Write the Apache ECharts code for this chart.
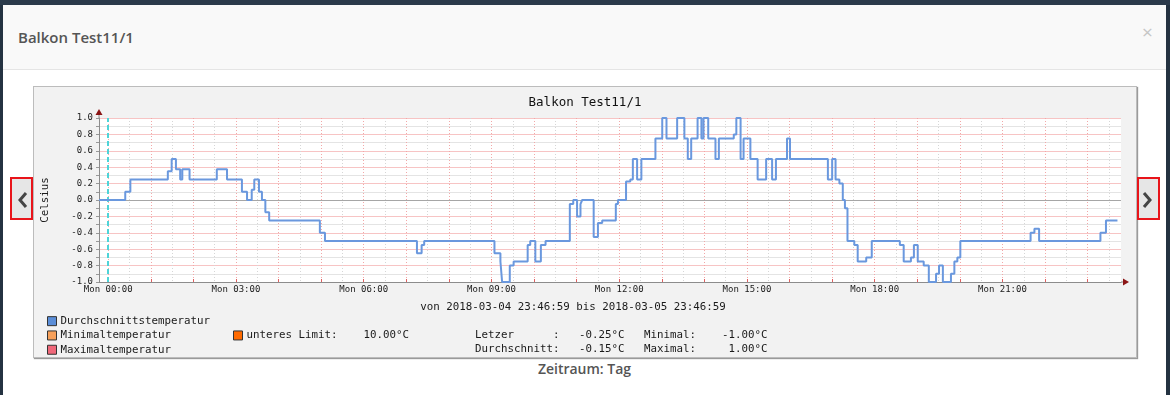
<!DOCTYPE html>
<html><head><meta charset="utf-8">
<script src="https://cdn.jsdelivr.net/npm/echarts@6/dist/echarts.min.js"></script>
<style>
html,body{margin:0;padding:0;width:1170px;height:395px;overflow:hidden;background:#243241;font-family:"Open Sans","Noto Sans",sans-serif;}
#topbar{position:absolute;left:0;top:0;width:1170px;height:5px;background:#2b3a4b;}
#modal{position:absolute;left:3px;top:5px;width:1163px;height:395px;background:#fff;}
#hdr{position:absolute;left:0;top:0;width:1163px;height:64px;background:#f9f9f9;border-bottom:1px solid #e5e5e5;}
#hdr .t{position:absolute;left:15px;top:22px;font-size:15px;line-height:20px;font-weight:600;color:#555;}
#hdr .x{position:absolute;left:1139px;top:17px;font-size:19px;line-height:20px;color:#c6c6c6;}
#box{position:absolute;left:30px;top:81px;width:1102px;height:270px;background:#f2f2f2;border:1px solid #bcbcbc;box-shadow:1px 1px 1px #9a9a9a;}
#chart{position:absolute;left:0;top:0;width:1102px;height:270px;}
#zeit{position:absolute;left:0;width:1163px;top:354px;line-height:19px;text-align:center;font-size:14px;font-weight:600;color:#555;}
.nav{position:absolute;top:172px;width:19px;height:39px;border:2px solid #e8141a;background:#e6e6e6;}
.nav svg{position:absolute;left:0;top:0;}
</style></head>
<body>
<div id="topbar"></div>
<div id="modal">
  <div id="hdr"><div class="t">Balkon Test11/1</div><div class="x">×</div></div>
  <div id="box"><div id="chart"></div></div>
  <div id="zeit">Zeitraum: Tag</div>
  <div class="nav" style="left:7px"><svg width="19" height="39"><polyline points="14,14 8,21 14,28" fill="none" stroke="#444" stroke-width="3"/></svg></div>
  <div class="nav" style="left:1134px"><svg width="19" height="39"><polyline points="5,14 11,21 5,28" fill="none" stroke="#444" stroke-width="3"/></svg></div>
</div>
<script>
// ---- data ----
const chartTitle = 'Balkon Test11/1';
const rangeText = 'von 2018-03-04 23:46:59 bis 2018-03-05 23:46:59';
const xMin = -(13 / 60) + (1 / 3600);   // 23:46:59 (hours relative to Mon 00:00)
const xMax = 23 + 47 / 60 - 1 / 3600;   // 23:46:59
const labelHours = [0, 3, 6, 9, 12, 15, 18, 21];
const labelTexts = ['Mon 00:00', 'Mon 03:00', 'Mon 06:00', 'Mon 09:00', 'Mon 12:00', 'Mon 15:00', 'Mon 18:00', 'Mon 21:00'];
const hourLines = [0, 1, 2, 3, 4, 5, 6, 7, 8, 9, 10, 11, 12, 13, 14, 15, 16, 17, 18, 19, 20, 21, 22, 23];
const halfLines = [0.5, 1.5, 2.5, 3.5, 4.5, 5.5, 6.5, 7.5, 8.5, 9.5, 10.5, 11.5, 12.5, 13.5, 14.5, 15.5, 16.5, 17.5, 18.5, 19.5, 20.5, 21.5, 22.5, 23.5];
const timeH = [-0.2164, 0.40, 0.52, 1.40, 1.49, 1.59, 1.69, 1.74, 1.91, 2.55,
  2.79, 3.14, 3.26, 3.37, 3.43, 3.54, 3.61, 3.69, 3.78, 4.97,
  5.09, 7.25, 7.36, 7.42, 9.07, 9.21, 9.25, 9.43, 9.52, 9.85,
  9.91, 10.03, 10.16, 10.27, 10.84, 10.92, 11.01, 11.09, 11.13, 11.40,
  11.50, 11.60, 11.92, 11.97, 12.16, 12.26, 12.32, 12.42, 12.52, 12.85,
  13.01, 13.11, 13.36, 13.53, 13.61, 13.69, 13.84, 13.93, 13.98, 14.09,
  14.26, 14.34, 14.69, 14.75, 14.85, 14.92, 15.08, 15.25, 15.45, 15.59,
  15.68, 15.94, 16.01, 16.90, 17.00, 17.08, 17.17, 17.25, 17.30, 17.36,
  17.52, 17.60, 17.80, 17.93, 18.59, 18.68, 18.85, 18.92, 19.01, 19.15,
  19.27, 19.44, 19.51, 19.60, 19.79, 19.87, 19.94, 20.01, 21.66, 21.75,
  21.86, 23.30, 23.43, 23.70];
const avgTemp = [0.0, 0.1, 0.25, 0.35, 0.5, 0.375, 0.25, 0.375, 0.25, 0.375,
  0.25, 0.1, 0.0, 0.125, 0.25, 0.1, 0.0, -0.15, -0.25, -0.4,
  -0.5, -0.65, -0.55, -0.5, -0.65, -0.75, -1.0, -0.8, -0.75, -0.55,
  -0.5, -0.75, -0.55, -0.5, -0.05, 0.0, -0.2, -0.05, 0.0, -0.45,
  -0.28, -0.25, -0.05, 0.0, 0.225, 0.25, 0.5, 0.25, 0.5, 0.75,
  1.0, 0.75, 1.0, 0.75, 0.5, 0.75, 1.0, 0.75, 1.0, 0.75,
  0.5, 0.75, 0.8, 1.0, 0.5, 0.75, 0.5, 0.25, 0.5, 0.25,
  0.5, 0.75, 0.5, 0.25, 0.5, 0.25, 0.2, 0.0, -0.1, -0.5,
  -0.55, -0.75, -0.7, -0.5, -0.55, -0.75, -0.7, -0.55, -0.75, -0.8,
  -1.0, -0.9, -0.8, -1.0, -0.9, -0.75, -0.7, -0.5, -0.4, -0.35,
  -0.5, -0.4, -0.25, -0.25];
const legendNames = ['Durchschnittstemperatur', 'Minimaltemperatur', 'Maximaltemperatur'];
const legendColors = ['#5b8ed8', '#f7a05a', '#f0687a'];
const limitName = 'unteres Limit:';
const limitValue = 10.0;
const limitColor = '#ff6a00';
const statNames = ['Letzer', 'Durchschnitt'];
const statValues = [-0.25, -0.15];
const extremeNames = ['Minimal', 'Maximal'];
const extremeValues = [-1.00, 1.00];

// ---- chart ----
const MONO = '"DejaVu Sans Mono", "Liberation Mono", monospace';
const chart = echarts.init(document.getElementById('chart'), null, {renderer: 'canvas'});
const pad = (s, n) => s + ' '.repeat(Math.max(0, n - s.length));
const lpad = (s, n) => ' '.repeat(Math.max(0, n - s.length)) + s;
const statLines = statNames.map((n, i) =>
  pad(n, 12) + ':' + lpad(statValues[i].toFixed(2), 8) + '°C   ' +
  pad(extremeNames[i] + ':', 8) + lpad(extremeValues[i].toFixed(2), 9) + '°C');

const option = {
  animation: false,
  backgroundColor: 'transparent',
  title: {text: chartTitle, left: 'center', top: 4,
    textStyle: {fontFamily: MONO, fontSize: 12.5, fontWeight: 'normal', color: '#111', lineHeight: 14}},
  grid: {left: 65, top: 31, right: 15, bottom: 75, show: true, backgroundColor: '#ffffff', borderWidth: 0, outerBoundsMode: 'none', containLabel: false},
  legend: [
    {data: legendNames, orient: 'vertical', left: 13, top: 227, padding: 0, itemGap: 0,
     icon: 'rect', itemWidth: 9, itemHeight: 9, selectedMode: false,
     itemStyle: {borderColor: '#333', borderWidth: 1},
     textStyle: {fontFamily: MONO, fontSize: 10.8, color: '#1a1a1a', lineHeight: 14.3, padding: [0, 0, 0, -1]}},
    {data: [limitName], orient: 'vertical', left: 199, top: 241.3, padding: 0,
     icon: 'rect', itemWidth: 9, itemHeight: 9, selectedMode: false,
     itemStyle: {borderColor: '#333', borderWidth: 1},
     formatter: n => n + '    ' + limitValue.toFixed(2) + '°C',
     textStyle: {fontFamily: MONO, fontSize: 10.8, color: '#1a1a1a', lineHeight: 14.3, padding: [0, 0, 0, -1]}}
  ],
  xAxis: [
    {type: 'value', min: xMin, max: xMax, gridIndex: 0,
     axisLine: {show: true, onZero: false, lineStyle: {color: '#8c8c8c', width: 1}},
     axisTick: {show: true, customValues: hourLines, length: 3, inside: true, lineStyle: {color: '#e06060'}},
     axisLabel: {customValues: labelHours, margin: 3, fontFamily: MONO, fontSize: 9, color: '#1a1a1a',
       formatter: v => labelTexts[labelHours.indexOf(Math.round(v))] || ''},
     splitLine: {show: true, lineStyle: {color: '#f2a8a8', type: [1, 2], width: 1}}},
    {type: 'value', min: xMin, max: xMax, gridIndex: 0, position: 'bottom',
     axisLine: {show: false}, axisLabel: {show: false},
     axisTick: {show: false, customValues: halfLines},
     splitLine: {show: true, lineStyle: {color: '#d6d6d6', type: [1, 2], width: 1}}}
  ],
  yAxis: {type: 'value', min: -1, max: 1, interval: 0.2,
    name: 'Celsius', nameLocation: 'middle', nameGap: 48, nameMoveOverlap: false,
    nameTextStyle: {fontFamily: MONO, fontSize: 10.8, color: '#1a1a1a'},
    axisLine: {show: true, onZero: false, lineStyle: {color: '#8c8c8c', width: 1}},
    axisTick: {show: true, length: 3, lineStyle: {color: '#999'}},
    minorTick: {show: true, splitNumber: 2, length: 3, lineStyle: {color: '#999'}},
    axisLabel: {margin: 6, fontFamily: MONO, fontSize: 9, color: '#1a1a1a', formatter: v => v.toFixed(1)},
    splitLine: {show: true, lineStyle: {color: '#f7c4c4', width: 1}},
    minorSplitLine: {show: true, lineStyle: {color: '#e4e4e4', width: 1}}},
  series: [
    {name: legendNames[0], type: 'line', step: 'end', showSymbol: false, clip: false, z: 5,
     data: timeH.map((t, i) => [t, avgTemp[i]]),
     itemStyle: {color: legendColors[0]},
     lineStyle: {color: '#6a98de', width: 2},
     markLine: {silent: true, symbol: ['none', 'none'], label: {show: false},
       data: [
         {yAxis: 0, lineStyle: {color: '#a6a6a6', type: 'solid', width: 1}},
         {xAxis: 0, lineStyle: {color: '#4ed4d8', type: [5, 3], width: 2}}
       ]}},
    {name: legendNames[1], type: 'line', data: [], itemStyle: {color: legendColors[1]}},
    {name: legendNames[2], type: 'line', data: [], itemStyle: {color: legendColors[2]}},
    {name: limitName, type: 'line', showSymbol: false, clip: true,
     data: [[xMin, limitValue], [xMax, limitValue]],
     itemStyle: {color: limitColor}, lineStyle: {color: limitColor, width: 1}}
  ]
};
chart.setOption(option);

// axis arrows and text blocks (positions via the chart's own scales)
const tl = chart.convertToPixel({gridIndex: 0}, [xMin, 1]);
const br = chart.convertToPixel({gridIndex: 0}, [xMax, -1]);
const ARROW = '#8b1515';
chart.setOption({graphic: [
  {type: 'line', shape: {x1: tl[0], y1: tl[1], x2: tl[0], y2: tl[1] - 3}, style: {stroke: '#8c8c8c', lineWidth: 1}, z: 10},
  {type: 'polygon', shape: {points: [[tl[0], tl[1] - 9], [tl[0] - 3.5, tl[1] - 3], [tl[0] + 3.5, tl[1] - 3]]}, style: {fill: ARROW}, z: 10},
  {type: 'line', shape: {x1: br[0], y1: br[1], x2: br[0] + 2, y2: br[1]}, style: {stroke: '#8c8c8c', lineWidth: 1}, z: 10},
  {type: 'polygon', shape: {points: [[br[0] + 8, br[1]], [br[0] + 2, br[1] - 3.5], [br[0] + 2, br[1] + 3.5]]}, style: {fill: ARROW}, z: 10},
  {type: 'text', x: 539, y: 220, style: {text: rangeText, fontFamily: MONO, fontSize: 10.8, fill: '#1a1a1a', align: 'center', verticalAlign: 'middle'}},
  {type: 'text', x: 441, y: 248, style: {text: statLines[0], fontFamily: MONO, fontSize: 10.8, fill: '#1a1a1a', align: 'left', verticalAlign: 'middle'}},
  {type: 'text', x: 441, y: 262.3, style: {text: statLines[1], fontFamily: MONO, fontSize: 10.8, fill: '#1a1a1a', align: 'left', verticalAlign: 'middle'}}
]});
</script>
</body></html>
